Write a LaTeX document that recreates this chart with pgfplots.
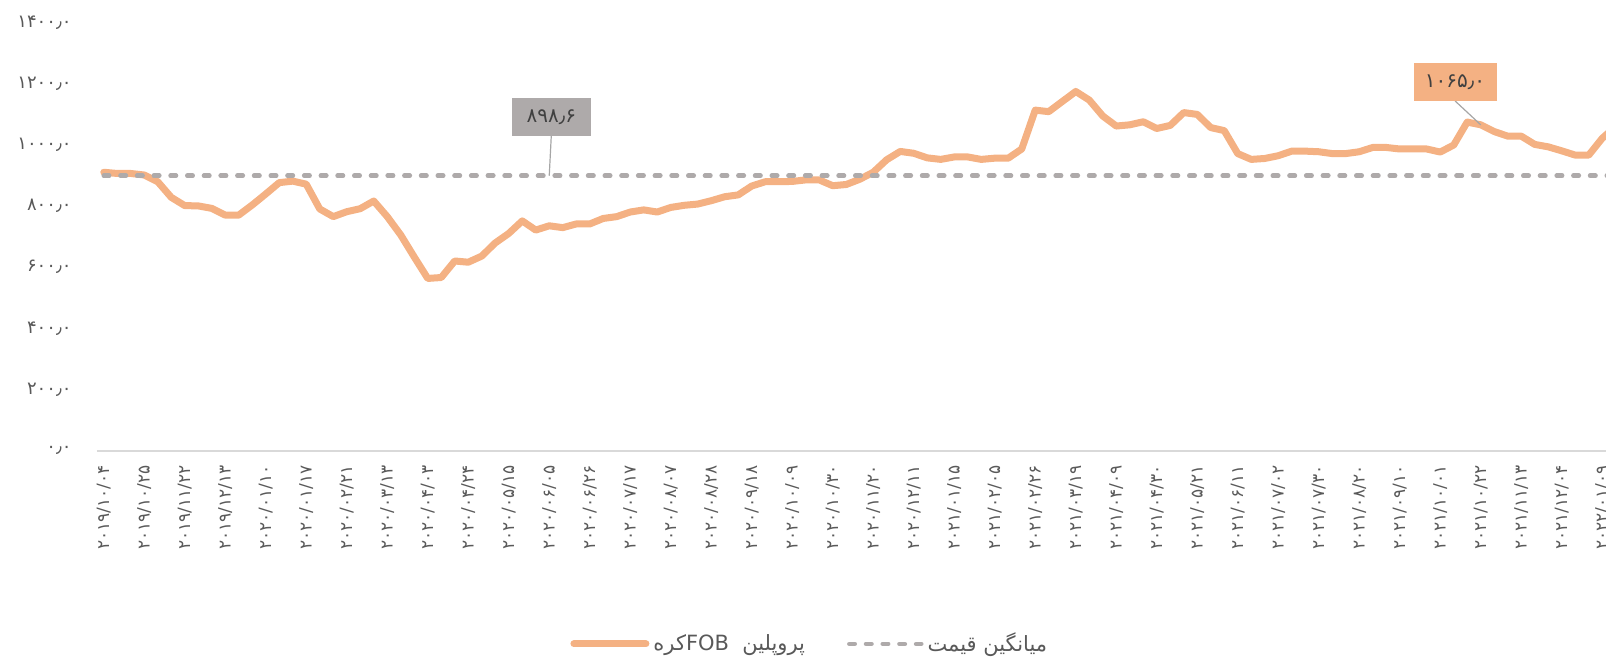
\documentclass[border=0pt]{standalone}
\usepackage{fontspec}
\setmainfont{DejaVu Sans}
\newfontfamily\pfont[Script=Arabic]{DejaVu Sans}
\TeXXeTstate=1
\usepackage{pgfplots}
\usepackage{pgfplotstable}
\pgfplotsset{compat=1.18}

\definecolor{lineorange}{HTML}{F4B183}
\definecolor{avggray}{HTML}{AEAAAA}
\definecolor{ticktext}{HTML}{595959}
\definecolor{boxtext}{HTML}{404040}
\definecolor{leader}{HTML}{A6A6A6}
\definecolor{axisgray}{HTML}{D9D9D9}

% weekly FOB price, one row per category
\pgfplotstableread{
idx price
0 910
1 906
2 906
3 901
4 879
5 828
6 801
7 800
8 792
9 770
10 770
11 803
12 839
13 876
14 881
15 871
16 790
17 765
18 781
19 791
20 816
21 765
22 705
23 633
24 563
25 566
26 620
27 616
28 636
29 679
30 710
31 751
32 721
33 735
34 729
35 741
36 741
37 759
38 765
39 780
40 787
41 780
42 795
43 802
44 806
45 817
46 830
47 836
48 865
49 879
50 879
51 880
52 885
53 885
54 866
55 870
56 887
57 910
58 951
59 978
60 972
61 957
62 952
63 960
64 960
65 952
66 956
67 956
68 986
69 1113
70 1108
71 1141
72 1174
73 1146
74 1094
75 1061
76 1065
77 1075
78 1053
79 1063
80 1105
81 1099
82 1056
83 1046
84 971
85 952
86 955
87 964
88 979
89 979
90 977
91 971
92 971
93 977
94 991
95 991
96 986
97 986
98 986
99 976
100 999
101 1074
102 1065
103 1043
104 1028
105 1028
106 1001
107 993
108 980
109 966
110 966
111 1021
112 1060
}\pricedata

\begin{document}
\begin{tikzpicture}[trim right=754.5pt]
\begin{axis}[
  scale only axis,
  width=754.5pt, height=214.2pt,
  xmin=-0.5, xmax=111.28,
  ymin=0, ymax=1400,
  axis x line*=bottom, axis y line*=left,
  x axis line style={-, draw=axisgray, line width=0.9pt},
  y axis line style={draw=none},
  major tick length=0pt,
  every tick/.style={draw=none},
  xtick={0,3,...,111},
  xticklabels={۲۰۱۹/۱۰/۰۴,۲۰۱۹/۱۰/۲۵,۲۰۱۹/۱۱/۲۲,۲۰۱۹/۱۲/۱۳,۲۰۲۰/۰۱/۱۰,۲۰۲۰/۰۱/۱۷,۲۰۲۰/۰۲/۲۱,۲۰۲۰/۰۳/۱۳,۲۰۲۰/۰۴/۰۳,۲۰۲۰/۰۴/۲۴,۲۰۲۰/۰۵/۱۵,۲۰۲۰/۰۶/۰۵,۲۰۲۰/۰۶/۲۶,۲۰۲۰/۰۷/۱۷,۲۰۲۰/۰۸/۰۷,۲۰۲۰/۰۸/۲۸,۲۰۲۰/۰۹/۱۸,۲۰۲۰/۱۰/۰۹,۲۰۲۰/۱۰/۳۰,۲۰۲۰/۱۱/۲۰,۲۰۲۰/۱۲/۱۱,۲۰۲۱/۰۱/۱۵,۲۰۲۱/۰۲/۰۵,۲۰۲۱/۰۲/۲۶,۲۰۲۱/۰۳/۱۹,۲۰۲۱/۰۴/۰۹,۲۰۲۱/۰۴/۳۰,۲۰۲۱/۰۵/۲۱,۲۰۲۱/۰۶/۱۱,۲۰۲۱/۰۷/۰۲,۲۰۲۱/۰۷/۳۰,۲۰۲۱/۰۸/۲۰,۲۰۲۱/۰۹/۱۰,۲۰۲۱/۱۰/۰۱,۲۰۲۱/۱۰/۲۲,۲۰۲۱/۱۱/۱۳,۲۰۲۱/۱۲/۰۴,۲۰۲۲/۰۱/۰۹},
  ytick={0,200,400,600,800,1000,1200,1400},
  yticklabels={۰٫۰,۲۰۰٫۰,۴۰۰٫۰,۶۰۰٫۰,۸۰۰٫۰,۱۰۰۰٫۰,۱۲۰۰٫۰,۱۴۰۰٫۰},
  xticklabel style={rotate=90, anchor=east, inner sep=0pt,
    font=\pfont\fontsize{8.5}{9}\selectfont, text=ticktext},
  xticklabel shift=7pt,
  yticklabel style={anchor=east, inner sep=0pt,
    font=\pfont\fontsize{9}{10}\selectfont, text=ticktext},
  yticklabel shift=12.5pt,
  legend columns=2,
  legend style={at={(0.473,-0.451)}, anchor=center, draw=none, fill=none,
    inner sep=0pt, font=\pfont\fontsize{10.5}{12}\selectfont, text=ticktext,
    /tikz/every even column/.append style={column sep=19pt}},
  legend image code/.code={\draw[#1] (0pt,0pt) -- (36pt,0pt);},
]
\addplot[color=lineorange, line width=3.5pt, line join=round, line cap=round]
  table[x=idx, y=price] {\pricedata};
\addlegendentry{\beginR پروپلین\ \ \beginL FOB\endL کره\endR}
\addplot[color=avggray, line width=2.25pt, line cap=round,
  dash pattern=on 2.75pt off 5.6pt]
  coordinates {(0,898.6) (112,898.6)};
\addlegendentry{\beginR میانگین قیمت\endR}

\draw[leader, line width=0.6pt] (axis cs:33,898.6) -- (axis cs:33.15,1028);
\node[fill=avggray, text=boxtext, minimum width=39.5pt, minimum height=19pt,
  inner sep=0pt, font=\pfont\fontsize{10}{11}\selectfont]
  at (axis cs:33.15,1090.5) {۸۹۸٫۶};
\draw[leader, line width=0.6pt] (axis cs:102,1065) -- (axis cs:100.1,1143);
\node[fill=lineorange, text=boxtext, minimum width=41.5pt, minimum height=19pt,
  inner sep=0pt, font=\pfont\fontsize{10}{11}\selectfont]
  at (axis cs:100.1,1205) {۱۰۶۵٫۰};
\end{axis}
% white margin of the reference around the chart
\path (-48.5pt,-105.15pt) rectangle (754.5pt,225.35pt);
\end{tikzpicture}
\end{document}
